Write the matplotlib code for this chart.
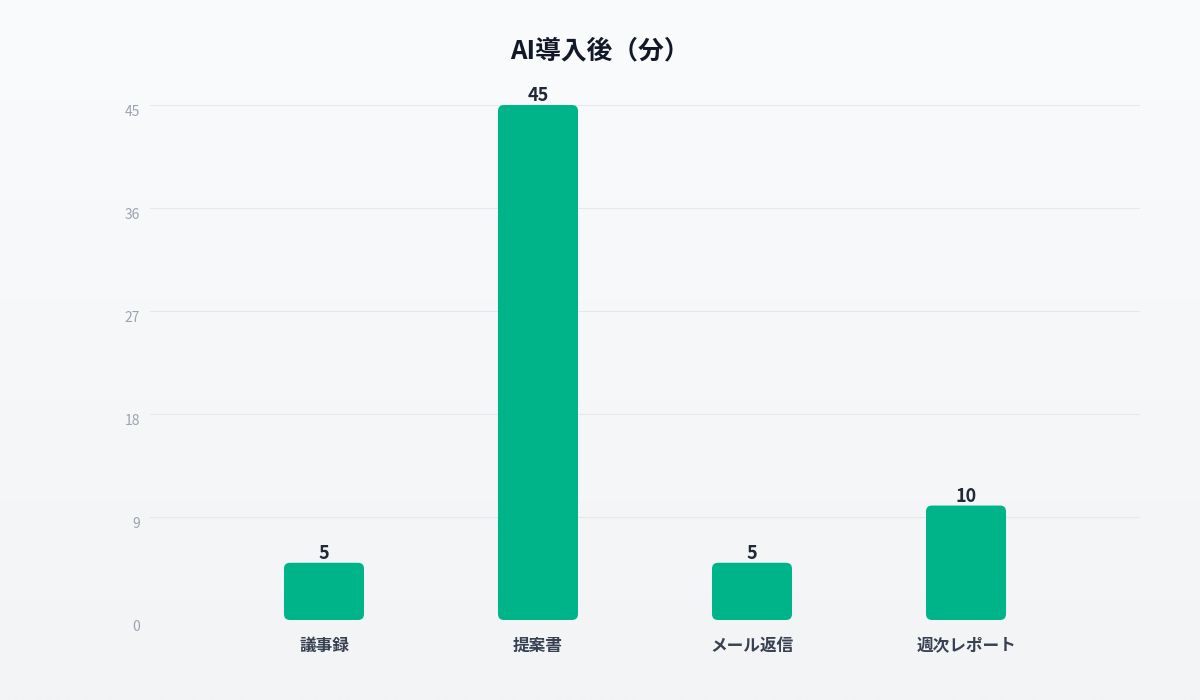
import numpy as np
from matplotlib import pyplot as plt
from matplotlib.patches import FancyBboxPatch

plt.rcParams['font.family'] = ['Noto Sans CJK JP', 'DejaVu Sans']

categories = ['議事録', '提案書', 'メール返信', '週次レポート']
minutes_after = [5, 45, 5, 10]
y_ticks = [0, 9, 18, 27, 36, 45]
title = 'AI導入後（分）'

bar_color = '#00b48a'

fig = plt.figure(figsize=(12, 7), dpi=100)

# soft vertical gradient background
bg = fig.add_axes([0, 0, 1, 1], zorder=-10)
grad = np.linspace(0, 1, 256).reshape(-1, 1)
top = np.array([250, 251, 252]) / 255
bottom = np.array([243, 244, 246]) / 255
img = top + (bottom - top) * grad[..., None]
bg.imshow(img, aspect='auto', extent=[0, 1, 0, 1])
bg.axis('off')

ax = fig.add_axes([0.125, 0.1143, 0.825, 0.7357])
ax.patch.set_alpha(0)

x = np.arange(len(categories))
bars = ax.bar(x, minutes_after, width=0.374, color=bar_color, zorder=3)
for b in bars:
    rb = FancyBboxPatch((b.get_x(), b.get_y()), b.get_width(), b.get_height(),
                        boxstyle='round,pad=0,rounding_size=0.028',
                        mutation_aspect=18.7, facecolor=bar_color,
                        edgecolor='none', zorder=3)
    ax.add_patch(rb)
    b.remove()

for xi, v in zip(x, minutes_after):
    ax.annotate(str(v), (xi, v), xytext=(0, 0), textcoords='offset points',
                ha='center', va='bottom', fontsize=13, fontweight='bold',
                color='#1f2937')

ax.set_xlim(-0.813, 3.813)
ax.set_ylim(0, 45)
ax.set_yticks(y_ticks)
ax.set_yticklabels([str(t) for t in y_ticks])
ax.set_xticks(x)
ax.set_xticklabels(categories)
ax.grid(axis='y', color='#e5e7eb', linewidth=0.8, zorder=0)
for s in ax.spines.values():
    s.set_visible(False)
ax.tick_params(axis='y', length=0, pad=7, labelsize=10, labelcolor='#9ca3af')
ax.tick_params(axis='x', length=0, pad=12, labelsize=12, labelcolor='#374151')
for lbl in ax.get_xticklabels():
    lbl.set_fontweight('bold')
for lbl in ax.get_yticklabels():
    lbl.set_verticalalignment('top')

fig.text(0.5, 0.927, title, ha='center', va='center', fontsize=18.5,
         fontweight='bold', color='#111827')

fig.savefig('out.png', dpi=100)
